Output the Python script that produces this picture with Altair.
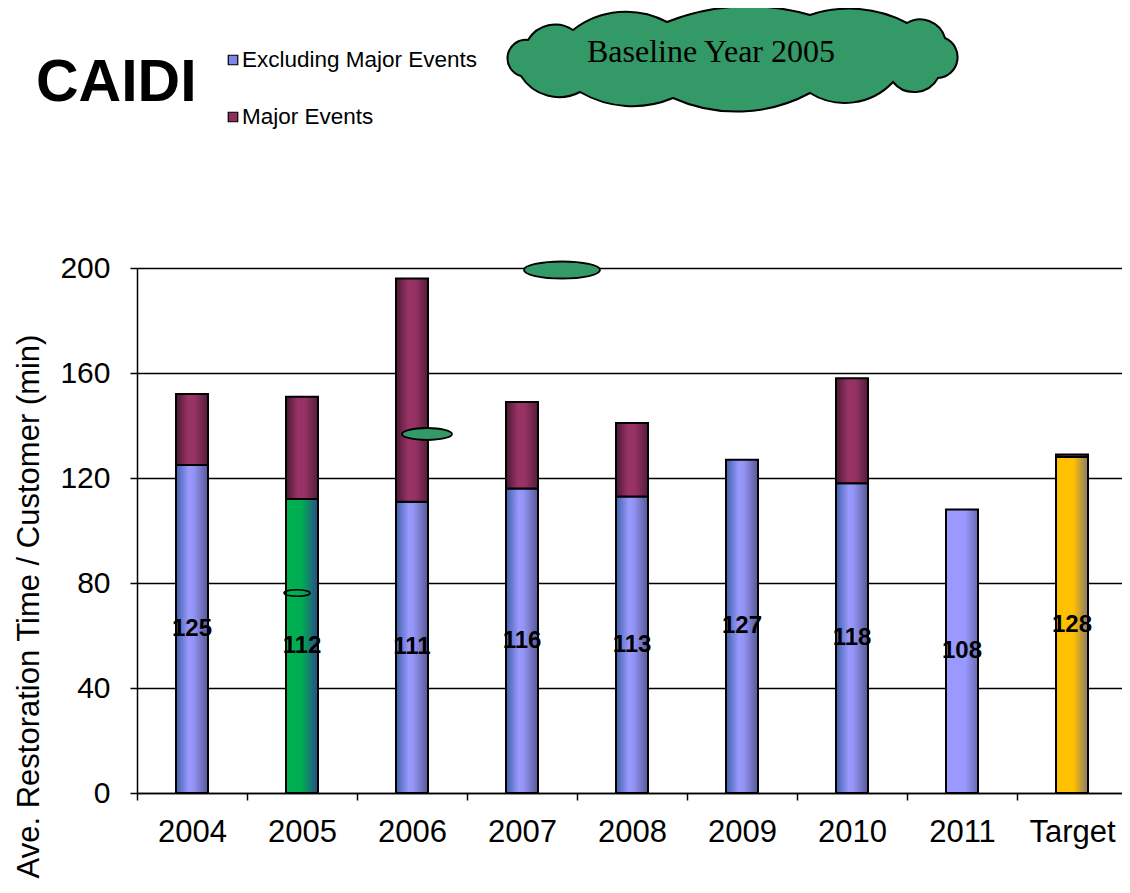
import altair as alt
import pandas as pd

# ---------------- data ----------------
categories = ["2004", "2005", "2006", "2007", "2008", "2009", "2010", "2011", "Target"]
excluding = [125, 112, 111, 116, 113, 127, 118, 108, 128]
major_events = [27, 39, 85, 33, 28, 0, 40, 0, 1]
fill_group = ["blue", "green", "blue", "blue", "blue", "blue", "blue", "light", "gold"]
series_names = ["Excluding Major Events", "Major Events"]
y_ticks = [0, 40, 80, 120, 160, 200]
chart_label = "CAIDI"
cloud_label = "Baseline Year 2005"
y_title = "Ave. Restoration Time / Customer (min)"

df = pd.DataFrame({"cat": categories, "excl": excluding, "major": major_events, "group": fill_group})
df["total"] = df["excl"] + df["major"]
df["mid"] = df["excl"] / 2.0

SANS = "Liberation Sans"
SERIF = "Liberation Serif"


def grad(stops):
    return alt.Gradient(
        gradient="linear",
        x1=0, x2=1, y1=0, y2=0,
        stops=[alt.GradientStop(offset=o, color=c) for o, c in stops],
    )


GRADS = {
    "blue": grad([(0, "#3f60a8"), (0.4, "#9999ff"), (0.55, "#9494f4"), (1, "#585898")]),
    "light": grad([(0, "#9999ff"), (0.6, "#9999ff"), (1, "#6a6aae")]),
    "green": grad([(0, "#00b050"), (0.5, "#00ac52"), (1, "#2b4a8a")]),
    "gold": grad([(0, "#ffc000"), (0.55, "#ffc000"), (1, "#8a7a70")]),
}
GRAD_MAJOR = grad([(0, "#4a1831"), (0.38, "#993366"), (0.6, "#963264"), (1, "#561c3a")])

x_enc = alt.X(
    "cat:N",
    sort=categories,
    scale=alt.Scale(paddingInner=0, paddingOuter=0),
    axis=alt.Axis(
        title=None, labelAngle=0, labelFont=SANS, labelFontSize=31, labelColor="black",
        labelPadding=17, tickBand="extent", tickSize=7, tickColor="black", tickWidth=1.5,
        domainColor="black", domainWidth=1.5, grid=False,
    ),
)


def y_enc(field):
    return alt.Y(
        field,
        scale=alt.Scale(domain=[0, 200], nice=False),
        axis=alt.Axis(
            values=y_ticks, title=y_title, titleFont=SANS, titleFontSize=31,
            titleFontWeight="normal", titleColor="black", titleAngle=270,
            titleX=-108, titleY=338, titleAlign="center", titleBaseline="middle",
            labelFont=SANS, labelFontSize=30, labelColor="black", labelPadding=20,
            tickSize=7, tickColor="black", tickWidth=1.5,
            domainColor="black", domainWidth=1.5,
            grid=True, gridColor="black", gridWidth=1.5, gridOpacity=1,
        ),
    )


layers = []
for g, gr in GRADS.items():
    layers.append(
        alt.Chart(df)
        .transform_filter(alt.datum.group == g)
        .mark_bar(size=32, fill=gr, stroke="black", strokeWidth=2)
        .encode(x=x_enc, y=y_enc("excl:Q"))
    )

layers.append(
    alt.Chart(df)
    .transform_filter(alt.datum.major > 0)
    .mark_bar(size=32, fill=GRAD_MAJOR, stroke="black", strokeWidth=2)
    .encode(x=x_enc, y=y_enc("total:Q"), y2="excl:Q")
)

layers.append(
    alt.Chart(df)
    .mark_text(font=SANS, fontSize=24, fontWeight="bold", color="black", baseline="middle")
    .encode(x=x_enc, y=y_enc("mid:Q"), text="excl:Q")
)

# ---------------- annotations ----------------
# cloud callout outline (valleys between lobes, sagitta of each lobe), pixels about the cloud centre
valleys = [(-205, -20), (-160, -30), (-66, -38), (77, -45), (174, -37), (212, -22),
           (205, 18), (160, 22), (77, 33), (-60, 38), (-153, 32), (-212, 16)]
sagittas = [10, 14, 12, 10, 10, 16, 12, 15, 16, 11, 12, 17]


def cloud_path(pts, sags):
    parts = ["M %.1f %.1f" % pts[0]]
    n = len(pts)
    for i in range(n):
        x0, y0 = pts[i]
        x1, y1 = pts[(i + 1) % n]
        L = ((x1 - x0) ** 2 + (y1 - y0) ** 2) ** 0.5
        s = sags[i]
        r = (L * L / 4 + s * s) / (2 * s)
        large = 1 if s > L / 2 else 0
        parts.append("A %.2f %.2f 0 %d 1 %.1f %.1f" % (r, r, large, x1, y1))
    parts.append("Z")
    return " ".join(parts)


def ellipse_path(rx, ry):
    return "M %g 0 A %g %g 0 1 1 %g 0 A %g %g 0 1 1 %g 0 Z" % (-rx, rx, ry, rx, rx, ry, -rx)


one = pd.DataFrame({"k": [0]})
CLOUD_GREEN = "#339966"

cloud = alt.Chart(one).mark_point(
    shape=cloud_path(valleys, sagittas), size=4, filled=True, fill=CLOUD_GREEN,
    stroke="black", strokeWidth=2, opacity=1,
).encode(x=alt.value(596), y=alt.value(-208))

bubble1 = alt.Chart(one).mark_point(
    shape=ellipse_path(38, 8.5), size=4, filled=True, fill=CLOUD_GREEN,
    stroke="black", strokeWidth=1.8, opacity=1,
).encode(x=alt.value(425), y=alt.value(2))

bubble2 = alt.Chart(one).mark_point(
    shape=ellipse_path(25, 6), size=4, filled=True, fill=CLOUD_GREEN,
    stroke="black", strokeWidth=1.8, opacity=1,
).encode(x=alt.value(290), y=alt.value(166))

bubble3 = alt.Chart(one).mark_point(
    shape=ellipse_path(13, 3.3), size=4, filled=False,
    stroke="black", strokeWidth=1.5, opacity=1,
).encode(x=alt.value(160), y=alt.value(325))

cloud_txt = alt.Chart(pd.DataFrame({"t": [cloud_label]})).mark_text(
    font=SERIF, fontSize=32, color="black", align="center", baseline="alphabetic",
).encode(x=alt.value(574), y=alt.value(-206), text="t:N")

caidi = alt.Chart(pd.DataFrame({"t": [chart_label]})).mark_text(
    font=SANS, fontSize=59, fontWeight="bold", color="black", align="left", baseline="alphabetic",
).encode(x=alt.value(-101), y=alt.value(-167), text="t:N")

legend_layers = []
legend_fills = ["#7f86e6", "#8e2f5e"]
legend_y = [-208, -151]
for name, col, ly in zip(series_names, legend_fills, legend_y):
    d = pd.DataFrame({"t": [name]})
    legend_layers.append(
        alt.Chart(d).mark_square(size=90, fill=col, stroke="black", strokeWidth=1.2, opacity=1)
        .encode(x=alt.value(96), y=alt.value(ly))
    )
    legend_layers.append(
        alt.Chart(d).mark_text(font=SANS, fontSize=22.5, color="black", align="left", baseline="middle")
        .encode(x=alt.value(105), y=alt.value(ly), text="t:N")
    )

chart = (
    alt.layer(*layers, *legend_layers, caidi, bubble3, bubble2, bubble1, cloud, cloud_txt)
    .properties(
        width=990, height=525,
        autosize=alt.AutoSizeParams(type="none"),
        padding={"left": 129, "top": 260, "right": -5, "bottom": 92},
        background="white",
    )
    .configure_view(stroke=None)
)

chart.save("out.html", embed_options={"renderer": "svg", "actions": False})
